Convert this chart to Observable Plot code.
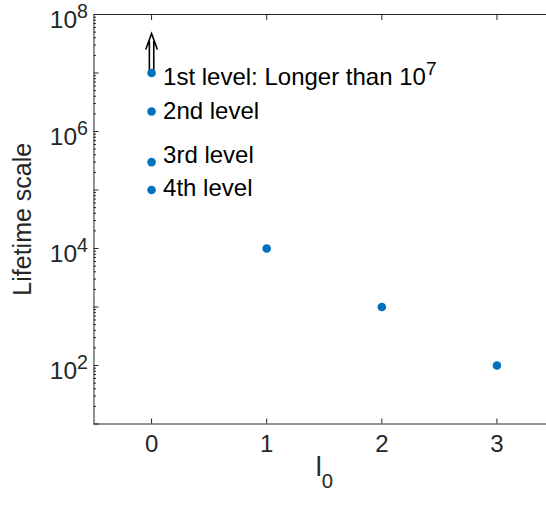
<!DOCTYPE html>
<html><head><meta charset="utf-8">
<script src="https://cdn.jsdelivr.net/npm/d3@7"></script>
<script src="https://cdn.jsdelivr.net/npm/@observablehq/plot@0.6"></script>
<style>body{margin:0;overflow:hidden;background:#fff}</style>
</head><body><div id="chart"></div>
<script>
// data
const l0 = [0, 0, 0, 0, 1, 2, 3];
const lifetime = [1e7, 2.2e6, 3e5, 1e5, 1e4, 1e3, 1e2];
const levelNames = ["1st level: Longer than 10^7", "2nd level", "3rd level", "4th level"];
const levelLabelX = [0.1, 0.1, 0.1, 0.1];
const levelLabelY = [8.4e6, 2.2e6, 3.9e5, 1.06e5];
const arrowAt = [{x: 0, y: 1e7}];
const xTicks = [0, 1, 2, 3];
const yMajor = [1e1, 1e2, 1e3, 1e4, 1e5, 1e6, 1e7, 1e8];
const yLabelTicks = [1e2, 1e4, 1e6, 1e8];
const yMinor = [];
for (let e = 1; e < 8; e++) for (let k = 2; k <= 9; k++) yMinor.push(k * 10 ** e);
const xLabel = "l_0";
const yLabel = "Lifetime scale";

const ink = "#262626";
const blue = "#0072BD";

// double-arrow glyph (like TeX \Uparrow), drawn upward from the anchor
const upArrow = {
  draw(ctx) {
    ctx.moveTo(-2.2, -2.5); ctx.lineTo(-2.2, -32);
    ctx.moveTo(2.2, -2.5); ctx.lineTo(2.2, -32);
    ctx.moveTo(-5.8, -23.5); ctx.lineTo(0, -39.5); ctx.lineTo(5.8, -23.5);
  }
};

const chart = Plot.plot({
  width: 554, height: 510,
  marginLeft: 93.5, marginRight: 0, marginTop: 14, marginBottom: 86.5,
  style: {fontFamily: "'Liberation Sans', Arial, sans-serif", fontSize: "20px", color: ink, background: "#fff", maxWidth: "none"},
  x: {domain: [-0.5, 3.5]},
  y: {type: "log", domain: [10, 1e8]},
  marks: [
    Plot.frame({stroke: ink, strokeWidth: 1}),
    Plot.axisY({ticks: yMajor, tickSize: -5, tickFormat: () => "", label: null, stroke: ink}),
    Plot.axisY({ticks: yMinor, tickSize: -2.5, tickFormat: () => "", label: null, stroke: ink}),
    Plot.axisX({ticks: xTicks, tickSize: -5, tickFormat: () => "", label: null, stroke: ink}),
    Plot.axisX({ticks: xTicks, anchor: "top", tickSize: -5, tickFormat: () => "", label: null, stroke: ink}),
    Plot.text(yLabelTicks, {y: d => d, frameAnchor: "left", dx: -6, dy: 6, textAnchor: "end",
      text: d => `10^${Math.round(Math.log10(d))}`, fontSize: 24.5, fill: ink}),
    Plot.text(xTicks, {x: d => d, frameAnchor: "bottom", dy: 28, text: d => String(d), fontSize: 24, fill: ink}),
    Plot.text([xLabel], {frameAnchor: "bottom", dy: 52, textAnchor: "middle", fontSize: 27, fill: ink}),
    Plot.text([yLabel], {frameAnchor: "left", dx: -71, rotate: -90, textAnchor: "middle", fontSize: 25, fill: ink}),
    Plot.dot(arrowAt, {x: "x", y: "y", symbol: upArrow, r: 10, fill: "none", stroke: "#000", strokeWidth: 1.6}),
    Plot.dot(l0.map((x, i) => ({x, y: lifetime[i]})), {x: "x", y: "y", r: 4.3, fill: blue, stroke: "none"}),
    Plot.text(levelNames, {x: levelLabelX, y: levelLabelY, textAnchor: "start", fontSize: 24, fill: "#000"})
  ]
});
chart.style.maxWidth = "none";

// turn "a^b" / "a_b" into superscript / subscript tspans
d3.select(chart).selectAll("text").each(function () {
  const t = this.textContent;
  const m = t.match(/^(.*?)([\^_])(.+)$/);
  if (!m) return;
  const sel = d3.select(this);
  sel.text(null);
  sel.append("tspan").text(m[1]);
  const sup = m[2] === "^";
  sel.append("tspan").attr("dy", sup ? "-0.55em" : "0.6em").attr("font-size", sup ? "80%" : "75%").text(m[3]);
});

document.getElementById("chart").appendChild(chart);
</script>
</body></html>
